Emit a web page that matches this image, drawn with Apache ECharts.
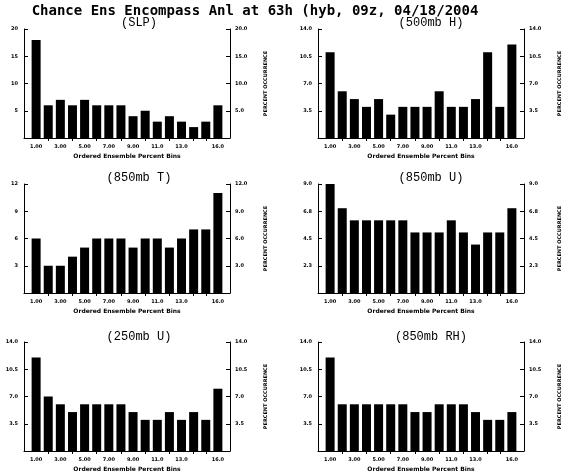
<!DOCTYPE html>
<html><head><meta charset="utf-8">
<script src="https://cdn.jsdelivr.net/npm/echarts@6/dist/echarts.min.js"></script>
<style>html,body{margin:0;padding:0;background:#fff}#c{width:566px;height:471px}</style>
</head><body><div id="c"></div>
<script>
const mainTitle = 'Chance Ens Encompass Anl at 63h (hyb, 09z, 04/18/2004';
const panelTitles = ['(SLP)', '(500mb H)', '(850mb T)', '(850mb U)', '(250mb U)', '(850mb RH)'];
const binCats = ['0','1','2','3','4','5','6','7','8','9','10','11','12','13','14','15','16','17'];
const binLabels = ['1.00','','3.00','','5.00','','7.00','','9.00','','11.0','','13.0','','','16.0'];
const slp   = [18, 6, 7, 6, 7, 6, 6, 6, 4, 5, 3, 4, 3, 2, 3, 6];
const h500  = [11, 6, 5, 4, 5, 3, 4, 4, 4, 6, 4, 4, 5, 11, 4, 12];
const t850  = [6, 3, 3, 4, 5, 6, 6, 6, 5, 6, 6, 5, 6, 7, 7, 11];
const u850  = [9, 7, 6, 6, 6, 6, 6, 5, 5, 5, 6, 5, 4, 5, 5, 7];
const u250  = [12, 7, 6, 5, 6, 6, 6, 6, 5, 4, 4, 5, 4, 5, 4, 8];
const rh850 = [12, 6, 6, 6, 6, 6, 6, 5, 5, 6, 6, 6, 5, 4, 4, 5];
const yMax = [20, 14, 12, 9, 14, 14];
const leftDigits = [0, 1, 0, 1, 1, 1];
const xName = 'Ordered Ensemble Percent Bins';
const yName = 'PERCENT OCCURRENCE';

const panelData = [slp, h500, t850, u850, u250, rh850];
const colLeft = [24, 318];
const rowTop = [29, 184, 342];
const subTop = [16.5, 171.5, 331];
const subCenter = [139, 431];
const PW = 206, PH = 109;
const small = {fontSize: 5, fontWeight: 'bold', color: '#000', fontFamily: 'DejaVu Sans'};
const lineS = {color: '#000', width: 1};

const grids = [], xAxes = [], yAxes = [], series = [], titles = [];
titles.push({text: mainTitle, left: 255, top: 4, padding: 0, textAlign: 'center',
  textStyle: {fontSize: 14, fontWeight: 'bold', fontFamily: 'DejaVu Sans Mono', color: '#000'}});
panelData.forEach((vals, i) => {
  const col = i % 2, row = Math.floor(i / 2);
  grids.push({left: colLeft[col], top: rowTop[row], width: PW, height: PH, containLabel: false, outerBoundsMode: 'none'});
  titles.push({text: panelTitles[i], left: subCenter[col], top: subTop[row], padding: 0, textAlign: 'center',
    textStyle: {fontSize: 12, fontWeight: 'normal', fontFamily: 'Liberation Mono', color: '#000'}});
  xAxes.push({gridIndex: i, type: 'category', data: binCats, boundaryGap: false,
    axisLine: {lineStyle: lineS},
    axisTick: {show: true, length: 3, lineStyle: lineS,
      interval: (idx) => idx >= 1 && idx <= 16 && binLabels[idx - 1] === ''},
    axisLabel: Object.assign({interval: 0, margin: 6, formatter: (v, idx) => binLabels[Number(v) - 1] || ''}, small),
    splitLine: {show: false},
    name: xName, nameLocation: 'middle', nameGap: 15.5,
    nameTextStyle: {fontSize: 6, fontWeight: 'bold', color: '#000', fontFamily: 'DejaVu Sans'}});
  const base = {gridIndex: i, type: 'value', min: 0, max: yMax[i], interval: yMax[i] / 4,
    splitLine: {show: false}, axisLine: {show: true, onZero: false, lineStyle: lineS},
    axisTick: {show: true, inside: true, length: 4, lineStyle: lineS}};
  yAxes.push(Object.assign({}, base, {position: 'left',
    axisLabel: Object.assign({margin: 6, showMinLabel: true, showMaxLabel: true,
      formatter: v => v === 0 ? '' : v.toFixed(leftDigits[i])}, small)}));
  yAxes.push(Object.assign({}, base, {position: 'right',
    axisLabel: Object.assign({margin: 5, showMinLabel: true, showMaxLabel: true,
      formatter: v => v === 0 ? '' : v.toFixed(1)}, small),
    name: yName, nameLocation: 'middle', nameGap: 33, nameRotate: 90,
    nameTextStyle: {fontSize: 5, fontWeight: 'bold', color: '#000', fontFamily: 'DejaVu Sans'}}));
  series.push({type: 'bar', xAxisIndex: i, yAxisIndex: 2 * i, barWidth: 9,
    itemStyle: {color: '#000'}, data: ['-'].concat(vals, ['-'])});
});

const chart = echarts.init(document.getElementById('c'), null, {renderer: 'canvas'});
chart.setOption({animation: false, backgroundColor: '#fff', title: titles, grid: grids,
  xAxis: xAxes, yAxis: yAxes, series: series});
</script></body></html>
